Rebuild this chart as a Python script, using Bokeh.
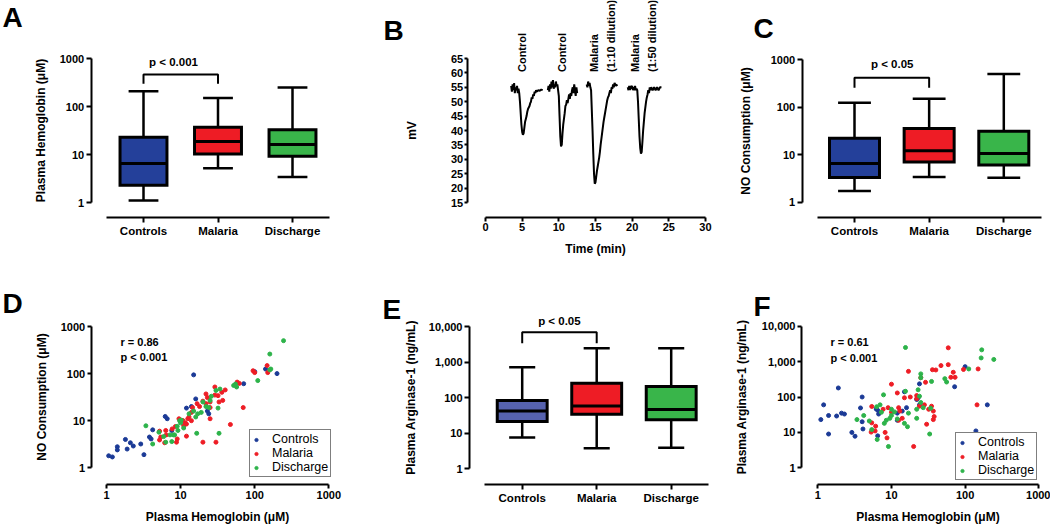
import math
from bokeh.plotting import figure
from bokeh.layouts import row, column
from bokeh.models import Range1d, FixedTicker, Label
from bokeh.embed import file_html
from bokeh.resources import INLINE
from bokeh.core.properties import value

FONT = "Liberation Sans"

# ---------------- data ----------------
groups = ["Controls", "Malaria", "Discharge"]
box_colors_ac = ["#24409A", "#EE1C25", "#39B54A"]
box_colors_e = ["#5662AE", "#EE1C25", "#39B54A"]
dot_colors = ["#1B3A96", "#EE1D25", "#2DB34A"]

# A: plasma hemoglobin (uM)
a_min = [1.1, 5.2, 3.4]
a_q1 = [2.3, 10.3, 9.2]
a_med = [6.5, 18.6, 16.1]
a_q3 = [23.0, 37.0, 32.7]
a_max = [207.0, 150.0, 248.0]

# C: NO consumption (uM)
c_min = [1.73, 3.4, 3.26]
c_q1 = [3.3, 7.0, 6.1]
c_med = [6.5, 12.1, 10.6]
c_q3 = [22.3, 35.7, 31.4]
c_max = [124.0, 151.0, 500.0]

# E: plasma arginase-1 (ng/mL)
e_min = [7.6, 3.8, 3.9]
e_q1 = [21.4, 34.4, 23.8]
e_med = [42.0, 58.0, 46.5]
e_q3 = [83.0, 255.0, 206.0]
e_max = [720.0, 2460.0, 2460.0]

log_ticks_3 = [1, 10, 100, 1000]
log_labels_3 = ["1", "10", "100", "1000"]
log_ticks_4 = [1, 10, 100, 1000, 10000]
log_labels_4 = ["1", "10", "100", "1,000", "10,000"]

# B: electrode trace (mV vs time in min), four injections
b_t1 = [3.5, 3.6, 3.7, 3.8, 3.9, 4.0, 4.1, 4.2, 4.3, 4.4, 4.5, 4.6, 4.7, 4.8, 4.9, 5.0, 5.1, 5.2, 5.3,
        5.4, 5.5, 5.6, 5.7, 5.8, 5.9, 6.0, 6.1, 6.2, 6.3, 6.4, 6.5, 6.6, 6.7, 6.8, 6.9, 7.0, 7.2, 7.4,
        7.6, 7.8]
b_v1 = [55.5, 53.5, 56.0, 54.0, 56.5, 53.0, 55.0, 54.0, 55.5, 53.0, 54.5, 53.0, 50.0, 46.0, 42.0,
        39.5, 38.5, 39.0, 41.0, 43.0, 44.0, 45.0, 46.5, 47.5, 48.0, 48.5, 49.5, 50.0, 51.5, 51.0, 52.5,
        52.0, 53.5, 53.0, 54.0, 53.5, 54.0, 53.8, 54.2, 54.0]
b_t2 = [8.5, 8.6, 8.7, 8.8, 8.9, 9.0, 9.1, 9.2, 9.3, 9.4, 9.5, 9.6, 9.7, 9.8, 9.9, 10.0, 10.1, 10.2,
        10.3, 10.4, 10.5, 10.6, 10.7, 10.8, 10.9, 11.0, 11.1, 11.2, 11.3, 11.4, 11.5, 11.6, 11.7, 11.8,
        11.9, 12.0, 12.1, 12.2, 12.3, 12.4, 12.5]
b_v2 = [54.0, 55.5, 53.5, 56.0, 54.5, 57.0, 55.0, 57.5, 54.5, 56.0, 55.0, 57.0, 55.5, 56.0, 54.0,
        52.0, 45.0, 38.0, 34.5, 35.0, 39.0, 42.0, 44.0, 46.0, 48.5, 49.0, 50.5, 49.5, 51.0, 52.5, 51.0,
        53.0, 52.0, 54.0, 55.0, 53.0, 56.0, 54.0, 52.0, 55.0, 53.0]
b_t3 = [13.8, 13.9, 14.0, 14.1, 14.2, 14.3, 14.4, 14.5, 14.6, 14.7, 14.8, 14.9, 15.0, 15.1, 15.2,
        15.3, 15.4, 15.5, 15.6, 15.7, 15.8, 15.9, 16.0, 16.1, 16.2, 16.3, 16.4, 16.5, 16.6, 16.7, 16.8,
        16.9, 17.0, 17.1, 17.2, 17.3, 17.4, 17.5, 17.6, 17.8, 18.0]
b_v3 = [56.0, 55.0, 57.0, 55.5, 56.5, 55.0, 54.0, 47.0, 40.0, 32.0, 25.0, 21.5, 22.0, 24.0, 26.0,
        27.5, 29.0, 30.5, 32.5, 35.0, 37.0, 39.0, 41.0, 43.0, 44.5, 46.0, 47.5, 49.0, 50.5, 51.5, 52.0,
        53.0, 54.0, 53.0, 55.0, 54.5, 56.0, 55.0, 56.5, 55.5, 56.0]
b_t4 = [19.4, 19.5, 19.6, 19.7, 19.8, 19.9, 20.0, 20.1, 20.2, 20.3, 20.4, 20.5, 20.6, 20.7, 20.8,
        20.9, 21.0, 21.1, 21.2, 21.3, 21.4, 21.5, 21.6, 21.7, 21.8, 21.9, 22.0, 22.1, 22.2, 22.3, 22.4,
        22.5, 22.6, 22.8, 23.0, 23.2, 23.4, 23.6, 23.8, 24.0]
b_v4 = [55.0, 54.0, 55.5, 54.0, 55.5, 54.5, 55.5, 54.0, 55.0, 54.0, 55.5, 54.0, 54.5, 54.0, 50.0,
        44.0, 38.0, 34.0, 32.0, 32.5, 36.0, 40.0, 43.0, 46.0, 48.0, 50.0, 51.5, 52.5, 54.0, 53.0, 55.0,
        54.0, 55.0, 54.0, 55.0, 54.0, 55.0, 54.0, 55.0, 55.0]
b_label_t = [5.0, 10.45, 14.75, 17.05, 20.45, 22.65]
b_label_text = ["Control", "Control", "Malaria", "(1:10 dilution)", "Malaria", "(1:50 dilution)"]
b_label_mv = 60.3
b_xticks = [0, 5, 10, 15, 20, 25, 30]
b_yticks = [15, 20, 25, 30, 35, 40, 45, 50, 55, 60, 65]

# D: plasma hemoglobin (uM) vs NO consumption (uM)
d_ctrl_hb = [1.07, 1.2, 1.4, 1.4, 1.8, 1.9, 2.1, 2.3, 2.9, 3.2, 3.8, 4.0, 4.2, 6.2, 6.6, 7.6, 12, 14,
             15, 16, 23, 24, 71, 100, 140, 200]
d_ctrl_no = [1.8, 1.7, 2.8, 2.4, 4.0, 2.5, 3.4, 2.9, 3.2, 1.9, 4.5, 4.1, 6.4, 12.3, 11, 6.2, 18.5, 20,
             94, 29, 16, 14, 61, 110, 125, 100]
d_mal_hb = [5.2, 5.4, 5.2, 6.3, 6.4, 6.1, 7.7, 8.5, 9.0, 8.8, 10.7, 11, 11.5, 12.5, 13, 12, 14, 12, 14,
            14.5, 16.7, 20, 22, 23, 25, 22, 25, 25, 29, 29, 30, 33, 32, 36, 37, 40, 47, 58, 62, 70,
            95, 100, 147, 150, 9.5, 18, 20]
d_mal_no = [6, 4.5, 3.9, 6.2, 5.0, 3.4, 6.7, 7.5, 4.1, 3.5, 10.1, 7.9, 9, 11, 12, 8.5, 10, 4.7, 15,
            19, 23, 3.5, 37, 31, 25, 23, 19, 11, 52, 35, 3.5, 25, 34, 40, 27, 45, 8.3, 66, 62, 19,
            115, 105, 148, 105, 11, 20, 26]
d_dis_hb = [3.4, 4.2, 5.1, 5.9, 6.3, 7.2, 7.6, 8.0, 9, 9.7, 10.2, 9.2, 10, 11, 8.3, 15, 16, 17, 16.5,
            20, 22, 24, 25, 32, 33, 34, 30, 26, 52, 55, 57, 110, 160, 160, 245, 165, 13, 19]
d_dis_no = [7.8, 3.2, 5.7, 4.6, 3.5, 5.0, 3.6, 5.0, 7.6, 10, 10.3, 6.2, 9, 7, 5.0, 16, 12, 14, 5.4,
            25, 20, 19, 27, 18.5, 5.4, 47, 44, 33, 56, 60, 52, 71, 120, 260, 500, 125, 14, 15]

# F: plasma hemoglobin (uM) vs plasma arginase-1 (ng/mL)
f_ctrl_hb = [1.1, 1.2, 1.4, 1.4, 1.8, 1.9, 2.1, 2.3, 2.9, 3.2, 3.8, 4, 4, 4.1, 6.2, 6.5, 6.7, 6.5, 12,
             12, 15, 16, 22, 23, 24, 24, 72, 100, 140, 200, 14]
f_ctrl_arg = [23, 60, 9, 30, 29, 180, 35, 33, 10, 7.8, 49, 100, 20, 12.5, 46, 8, 33, 42, 35, 22, 140,
              50, 85, 95, 235, 60, 195, 720, 11, 60, 40]
f_mal_hb = [5.4, 5.4, 5.3, 6.1, 6, 7.7, 8.2, 8.7, 10, 10, 12, 12.5, 13, 14, 12.5, 15, 17, 20, 22, 22,
            24, 25, 28, 29, 30, 32, 35, 37, 38, 37, 36, 40, 47, 59, 59, 69, 64, 73, 95, 145, 150, 9,
            18]
f_mal_arg = [54, 18.6, 10.2, 15, 11, 45, 10, 7, 230, 37, 130, 50, 40, 25, 22, 95, 530, 4, 110, 90, 55,
             350, 60, 260, 17, 45, 55, 40, 28, 23, 590, 580, 770, 2450, 820, 500, 360, 360, 600, 60,
             620, 50, 100]
f_dis_hb = [15.5, 3.4, 4.2, 5, 5.4, 6.4, 6.3, 7, 7.8, 7.3, 9.1, 10, 9.5, 10, 8, 8.5, 15.5, 16.5, 15,
            17, 22, 22, 25, 25, 23, 24, 25, 27, 33, 34, 35, 53, 56, 112, 168, 165, 245, 11, 12]
f_dis_arg = [2500, 23, 30, 21, 12, 6.3, 53, 60, 115, 37, 4, 45, 25, 30, 18, 22, 145, 14.5, 18, 35, 45,
             25, 450, 350, 160, 105, 70, 50, 9, 48, 275, 330, 265, 620, 2150, 1270, 1150, 38, 24]

hb_ticks = [1, 10, 100, 1000]
hb_labels = ["1", "10", "100", "1000"]


# ---------------- pixel calibration helpers (layout only) ----------------
def lin(p1, v1, p2, v2):
    return lambda px: v1 + (px - p1) * (v2 - v1) / (p2 - p1)


def logm(p1, v1, p2, v2):
    l1, l2 = math.log10(v1), math.log10(v2)
    return lambda px: 10 ** (l1 + (px - p1) * (l2 - l1) / (p2 - p1))


def style_axes(p, tick_out=5, standoff=2):
    for ax in p.axis:
        ax.axis_line_width = 2
        ax.axis_line_color = "black"
        ax.major_tick_line_width = 2
        ax.major_tick_line_color = "black"
        ax.major_tick_out = tick_out
        ax.major_tick_in = 0
        ax.minor_tick_line_color = None
        ax.major_label_text_font = FONT
        ax.major_label_text_font_style = "bold"
        ax.major_label_text_font_size = "11px"
        ax.major_label_text_color = "black"
        ax.major_label_standoff = standoff
        ax.axis_label_text_font = FONT
        ax.axis_label_text_font_style = "bold"
        ax.axis_label_text_font_size = "12px"
        ax.axis_label_text_color = "black"
    p.xgrid.grid_line_color = None
    p.ygrid.grid_line_color = None
    p.outline_line_color = None
    p.background_fill_color = "white"
    p.border_fill_color = "white"


def make_fig(X, Y, cx0, cx1, cy0, cy1, ax_y_px, ax_x_px, xlog=False, ylog=False):
    p = figure(width=cx1 - cx0, height=cy1 - cy0,
               x_range=Range1d(X(cx0), X(cx1)), y_range=Range1d(Y(cy1), Y(cy0)),
               x_axis_type="log" if xlog else "linear",
               y_axis_type="log" if ylog else "linear",
               output_backend="svg", toolbar_location=None,
               min_border_left=0, min_border_right=0, min_border_top=0, min_border_bottom=0)
    p.xaxis.fixed_location = Y(ax_y_px)
    p.yaxis.fixed_location = X(ax_x_px)
    return p


def letter(p, text, x, y):
    p.text(x=[x], y=[y], text=[text], text_font=value(FONT), text_font_style="bold",
           text_font_size="28px", text_baseline="middle", text_align="left",
           text_color="black")


def note(p, x, y, text, size="11.5px", align="center"):
    p.add_layout(Label(x=x, y=y, text=text, text_font=FONT, text_font_style="bold",
                       text_font_size=size, text_align=align, text_baseline="middle",
                       text_color="black"))


def box_panel(X, Y, canvas, axes_px, mins, q1, med, q3, maxs, colors, box_w, cap_w,
              yticks, ylabels, ylabel, ylabel_standoff, sig_text, sig_px, br_hi_px, br_lo_px):
    p = make_fig(X, Y, *canvas, *axes_px, ylog=True)
    xs = [i + 1 for i in range(len(groups))]
    p.segment(x0=xs, x1=xs, y0=q3, y1=maxs, line_color="black", line_width=2.5)
    p.segment(x0=xs, x1=xs, y0=q1, y1=mins, line_color="black", line_width=2.5)
    p.segment(x0=[x - cap_w / 2 for x in xs], x1=[x + cap_w / 2 for x in xs], y0=maxs, y1=maxs,
              line_color="black", line_width=2.5)
    p.segment(x0=[x - cap_w / 2 for x in xs], x1=[x + cap_w / 2 for x in xs], y0=mins, y1=mins,
              line_color="black", line_width=2.5)
    p.vbar(x=xs, width=box_w, bottom=q1, top=q3, fill_color=colors, line_color="black",
           line_width=3, line_join="miter")
    p.segment(x0=[x - box_w / 2 for x in xs], x1=[x + box_w / 2 for x in xs], y0=med, y1=med,
              line_color="black", line_width=3)
    hi, lo = Y(br_hi_px), Y(br_lo_px)
    p.line(x=[xs[0], xs[0], xs[1], xs[1]], y=[lo, hi, hi, lo], line_color="black", line_width=2)
    note(p, X(sig_px[0]), Y(sig_px[1]), sig_text)
    style_axes(p)
    p.xaxis.ticker = FixedTicker(ticks=xs)
    p.xaxis.major_label_overrides = {x: g for x, g in zip(xs, groups)}
    p.xaxis.bounds = (0.5, len(groups) + 0.5)
    p.xaxis.major_label_text_font_size = "11.5px"
    p.yaxis.ticker = FixedTicker(ticks=yticks)
    p.yaxis.major_label_overrides = {t: l for t, l in zip(yticks, ylabels)}
    p.yaxis.bounds = (yticks[0], yticks[-1])
    p.yaxis.axis_label = ylabel
    p.yaxis.axis_label_standoff = ylabel_standoff
    return p


def scatter_panel(X, Y, canvas, axes_px, series, yticks, ylabels, ylabel, ylabel_standoff,
                  r_text, p_text, txt_px, legend_loc):
    p = make_fig(X, Y, *canvas, *axes_px, xlog=True, ylog=True)
    for (xv, yv), name, col in zip(series, groups, dot_colors):
        p.scatter(xv, yv, size=4, fill_color=col, line_color=col, legend_label=name)
    note(p, X(txt_px[0]), Y(txt_px[1]), r_text, size="11px", align="left")
    note(p, X(txt_px[0]), Y(txt_px[2]), p_text, size="11px", align="left")
    style_axes(p, tick_out=4)
    p.xaxis.ticker = FixedTicker(ticks=hb_ticks)
    p.xaxis.major_label_overrides = {t: l for t, l in zip(hb_ticks, hb_labels)}
    p.xaxis.bounds = (hb_ticks[0], hb_ticks[-1])
    p.xaxis.axis_label = "Plasma Hemoglobin (\u03bcM)"
    p.xaxis.axis_label_standoff = 8
    p.yaxis.ticker = FixedTicker(ticks=yticks)
    p.yaxis.major_label_overrides = {t: l for t, l in zip(yticks, ylabels)}
    p.yaxis.bounds = (yticks[0], yticks[-1])
    p.yaxis.axis_label = ylabel
    p.yaxis.axis_label_standoff = ylabel_standoff
    lg = p.legend[0]
    lg.location = legend_loc
    lg.border_line_color = "black"
    lg.border_line_width = 1.5
    lg.background_fill_color = "white"
    lg.background_fill_alpha = 1
    lg.padding = 2
    lg.spacing = 0
    lg.margin = 0
    lg.label_text_font = FONT
    lg.label_text_font_size = "12.5px"
    lg.label_text_color = "black"
    lg.glyph_width = 8
    lg.glyph_height = 11
    lg.label_height = 11
    lg.label_standoff = 12
    return p


# ---------------- panels ----------------
# A
XA, YA = lin(143, 1, 217.5, 2), logm(202, 1, 58, 1000)
pA = box_panel(XA, YA, (0, 350, 0, 256), (217, 90.7),
               a_min, a_q1, a_med, a_q3, a_max, box_colors_ac, 0.63, 0.40,
               log_ticks_3, log_labels_3, "Plasma Hemoglobin (\u03bcM)", 9,
               "p < 0.001", (173, 61.7), 74, 83.3)
letter(pA, "A", XA(2), YA(16.5))

# B
XB, YB = lin(485, 0, 668.3, 25), lin(202, 15, 58, 65)
pB = make_fig(XB, YB, 350, 712, 0, 256, 217, 466.7)
pB.multi_line(xs=[b_t1, b_t2, b_t3, b_t4], ys=[b_v1, b_v2, b_v3, b_v4], line_color="black",
              line_width=2)
pB.text(x=b_label_t, y=[b_label_mv] * len(b_label_t), text=b_label_text, angle=math.pi / 2,
        text_align="left", text_baseline="middle", text_font=value(FONT),
        text_font_style="bold", text_font_size="11px", text_color="black")
style_axes(pB, tick_out=4, standoff=1)
pB.xaxis.ticker = FixedTicker(ticks=b_xticks)
pB.xaxis.bounds = (b_xticks[0], b_xticks[-1])
pB.xaxis.axis_label = "Time (min)"
pB.xaxis.axis_label_standoff = 8
pB.yaxis.ticker = FixedTicker(ticks=b_yticks)
pB.yaxis.bounds = (b_yticks[0], b_yticks[-1])
pB.yaxis.major_tick_out = 3
pB.yaxis.major_label_standoff = 1
pB.yaxis.axis_label = "mV"
pB.yaxis.axis_label_standoff = 29
letter(pB, "B", XB(383), YB(29.5))

# C
XC, YC = lin(854, 1, 928.65, 2), logm(201.7, 1, 59.3, 1000)
pC = box_panel(XC, YC, (712, 1050, 0, 256), (217.3, 801.7),
               c_min, c_q1, c_med, c_q3, c_max, box_colors_ac, 0.67, 0.44,
               log_ticks_3, log_labels_3, "NO Consumption (\u03bcM)", 15,
               "p < 0.05", (891.7, 63.3), 77.3, 87.3)
letter(pC, "C", XC(753), YC(28))

# D
XD, YD = logm(106, 1, 328.3, 1000), logm(467.3, 1, 326, 1000)
pD = scatter_panel(XD, YD, (0, 350, 256, 525), (484, 90.7),
                   [(d_ctrl_hb, d_ctrl_no), (d_mal_hb, d_mal_no), (d_dis_hb, d_dis_no)],
                   log_ticks_3, log_labels_3, "NO Consumption (\u03bcM)", 9,
                   "r = 0.86", "p < 0.001", (120, 341.7, 356.7), (249, 525 - 477))
letter(pD, "D", XD(2), YD(303))

# E
XE, YE = lin(521.7, 1, 596.2, 2), logm(468.3, 1, 326, 10000)
pE = box_panel(XE, YE, (350, 712, 256, 525), (484, 469),
               e_min, e_q1, e_med, e_q3, e_max, box_colors_e, 0.67, 0.35,
               log_ticks_4, log_labels_4, "Plasma Arginase-1 (ng/mL)", 8,
               "p < 0.05", (558.9, 320), 331.7, 342.7)
letter(pE, "E", XE(382), YE(309))

# F
XF, YF = logm(817.3, 1, 1038.3, 1000), logm(467.3, 1, 325.7, 10000)
pF = scatter_panel(XF, YF, (712, 1050, 256, 525), (484, 801),
                   [(f_ctrl_hb, f_ctrl_arg), (f_mal_hb, f_mal_arg), (f_dis_hb, f_dis_arg)],
                   log_ticks_4, log_labels_4, "Plasma Arginase-1 (ng/mL)", 10,
                   "r = 0.61", "p < 0.001", (830, 341.7, 357.3), (955 - 712, 525 - 480))
letter(pF, "F", XF(753), YF(306))

layout = column(row(pA, pB, pC), row(pD, pE, pF))
open("out.html", "w").write(file_html(layout, INLINE))
